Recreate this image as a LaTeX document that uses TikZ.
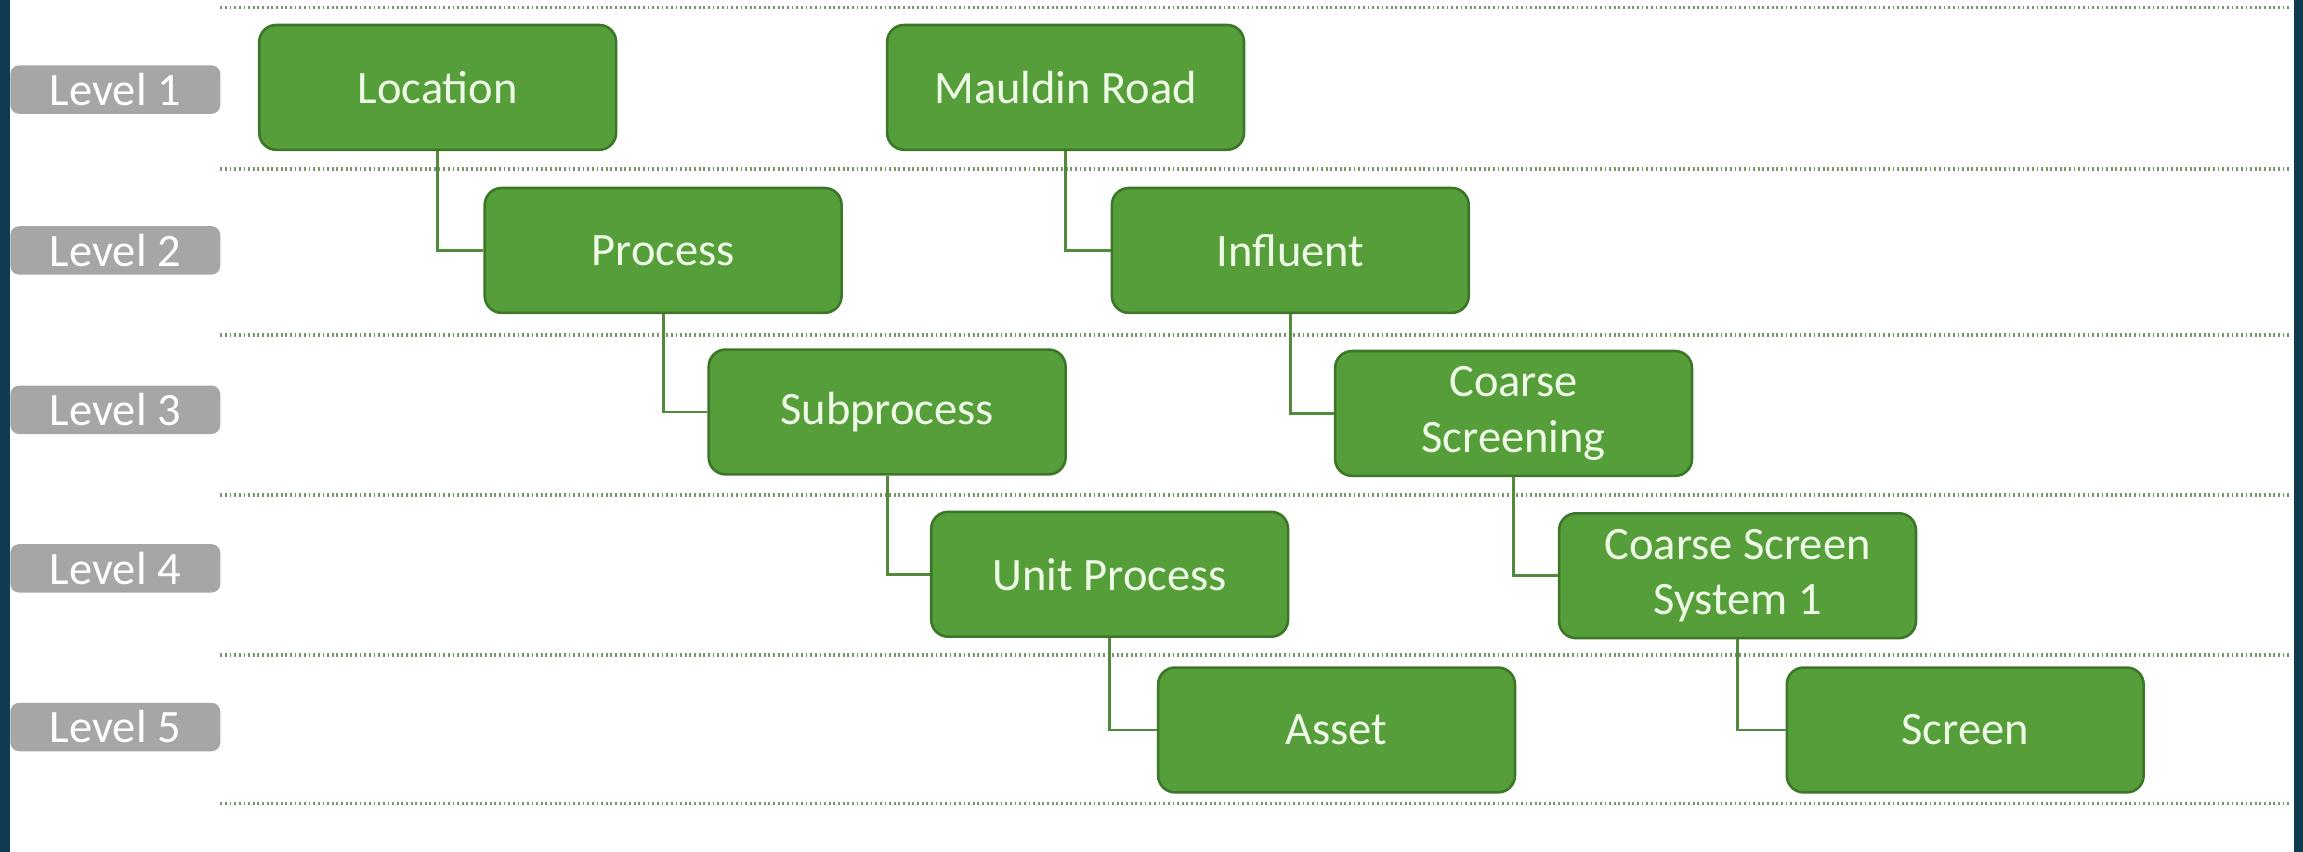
\documentclass[tikz,border=0pt]{standalone}
\usepackage{fontspec}
\setmainfont{Carlito}
\definecolor{boxgreen}{RGB}{86,158,58}
\definecolor{boxedge}{RGB}{60,118,40}
\definecolor{boxtext}{RGB}{238,251,230}
\definecolor{linkgreen}{RGB}{80,138,58}
\definecolor{dotgreen}{RGB}{120,150,105}
\definecolor{lvlgray}{RGB}{166,166,166}
\definecolor{barblue}{RGB}{16,58,80}
\tikzset{
  stepbox/.style={draw=boxedge, fill=boxgreen, line width=1pt, rounded corners=0.23cm,
    minimum width=4.86cm, minimum height=1.7cm, inner sep=2pt, align=center,
    text=boxtext, font=\fontsize{18}{21.5}\selectfont},
  lvlbox/.style={fill=lvlgray, rounded corners=0.12cm, minimum width=2.86cm,
    minimum height=0.66cm, inner sep=0pt, text=white, font=\fontsize{18}{21.5}\selectfont},
  link/.style={draw=linkgreen, line width=1.1pt},
  sepline/.style={draw=dotgreen, line width=1.3pt, dash pattern=on 0.7pt off 1.1pt}
}
\def\levelrow(#1,#2,#3){
  \node[lvlbox] (lv#1) at (78.5,#2) {Level #1};
  \draw[sepline] (150,#3) -- (1560,#3);
}
\begin{document}
\begin{tikzpicture}[x=0.02cm,y=-0.02cm]
\useasboundingbox[fill=white] (0,0) rectangle (1568,580);
\draw[sepline] (150,5) -- (1560,5);
\levelrow(1,61,115)
\levelrow(2,170.5,228)
\levelrow(3,279,337)
\levelrow(4,387,446)
\levelrow(5,495,547)
% left tree
\node[stepbox] (loc) at (298,59.5) {Location};
\node[stepbox] (proc) at (451.5,170.5) {Process};
\node[stepbox] (subproc) at (604,280.5) {Subprocess};
\node[stepbox] (unitproc) at (755.5,391) {Unit Process};
\node[stepbox] (asset) at (910,497) {Asset};
% right tree
\node[stepbox] (mauldin) at (725.5,59.5) {Mauldin Road};
\node[stepbox] (influent) at (878.5,170.5) {Influent};
\node[stepbox] (coarse) at (1030.5,281.5) {Coarse\\Screening};
\node[stepbox] (cssys) at (1183,392) {Coarse Screen\\System 1};
\node[stepbox] (screen) at (1338,497) {Screen};
\foreach \a/\b in {loc/proc, proc/subproc, subproc/unitproc, unitproc/asset,
  mauldin/influent, influent/coarse, coarse/cssys, cssys/screen}
  \draw[link] (\a.south) |- (\b.west);
\fill[barblue] (0,0) rectangle (7,580);
\fill[barblue] (1562,0) rectangle (1568,580);
\end{tikzpicture}
\end{document}
